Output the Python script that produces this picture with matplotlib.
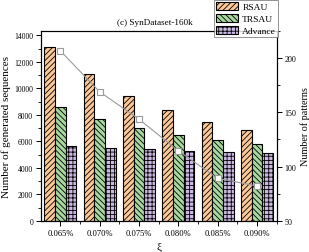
import matplotlib
matplotlib.use("Agg")
import matplotlib.pyplot as plt
import numpy as np
from matplotlib.ticker import MultipleLocator

plt.rcParams['font.family'] = ['Liberation Serif', 'DejaVu Serif']
plt.rcParams['hatch.linewidth'] = 0.6

categories = ["0.065%", "0.070%", "0.075%", "0.080%", "0.085%", "0.090%"]
rsau = [13150, 11070, 9460, 8340, 7470, 6870]
trsau = [8570, 7700, 7000, 6510, 6090, 5810]
advance = [5640, 5510, 5410, 5310, 5210, 5130]
patterns = [206.5, 168.8, 143.6, 114.5, 89.2, 82.2]

fig = plt.figure(figsize=(3.09, 2.53), dpi=100)
ax = fig.add_axes([0.1317, 0.1225, 0.7638, 0.7522])
x = np.arange(len(categories))
w = 0.27
specs = [(rsau, "RSAU", "#FCC898", "//////"),
         (trsau, "TRSAU", "#A8D8A0", "\\\\\\\\\\\\"),
         (advance, "Advance", "#CBB9E3", "++++")]
handles = []
for i, (vals, lab, col, h) in enumerate(specs):
    b = ax.bar(x + (i - 1) * w, vals, w, color=col, edgecolor="black",
               linewidth=0.8, hatch=h, label=lab, zorder=2)
    handles.append(b)

ax.set_xlim(-0.5, 5.5)
ax.set_ylim(0, 14350)
ax.set_xticks(x)
ax.set_xticklabels(categories)
ax.set_xticks(x + 0.5, minor=True)
ax.yaxis.set_major_locator(MultipleLocator(2000))
ax.yaxis.set_minor_locator(MultipleLocator(1000))
ax.tick_params(axis="both", which="major", direction="out", length=3.5, width=0.7, pad=2)
ax.tick_params(axis="x", which="major", labelsize=6.1)
ax.tick_params(axis="y", which="major", labelsize=5.5)
ax.tick_params(axis="both", which="minor", direction="out", length=2, width=0.6)
ax.set_ylabel("Number of generated sequences", fontsize=8.0, labelpad=2)
ax.set_xlabel("ξ", fontsize=8, labelpad=4)
for s in ax.spines.values():
    s.set_linewidth(0.8)

ax2 = ax.twinx()
ax2.plot(x, patterns, color="#9a9a9a", linewidth=0.8, marker="s", markersize=4,
         markerfacecolor="white", markeredgecolor="#9a9a9a", markeredgewidth=0.8, zorder=3)
ax2.set_ylim(50, 225)
ax2.yaxis.set_major_locator(MultipleLocator(50))
ax2.yaxis.set_minor_locator(MultipleLocator(25))
ax2.tick_params(axis="y", which="major", direction="out", length=3.5, width=0.7, labelsize=5.8, pad=2)
ax2.tick_params(axis="y", which="minor", direction="out", length=2, width=0.6)
ax2.set_ylabel("Number of patterns", fontsize=7.3, labelpad=3)
for s in ax2.spines.values():
    s.set_linewidth(0.8)

fig.text(117 / 309, 1 - 23 / 253, "(c) SynDataset-160k", fontsize=6.6, ha="left", va="center")

leg = fig.legend(handles=handles, loc="upper right", bbox_to_anchor=(278 / 309, 1 - 1 / 253),
                 fontsize=6.8, frameon=True, fancybox=False, edgecolor="#777777",
                 handlelength=2.4, handleheight=1.0, handletextpad=0.4, borderpad=0.2,
                 labelspacing=0.25, borderaxespad=0)
leg.get_frame().set_linewidth(0.7)

fig.savefig("out.png", dpi=100)
